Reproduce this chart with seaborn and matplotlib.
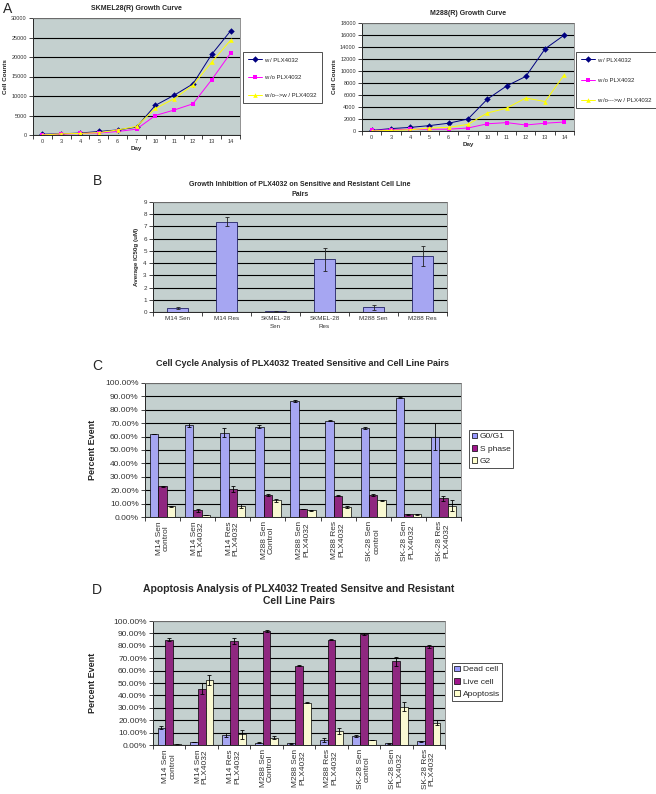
import numpy as np
import pandas as pd
import matplotlib
matplotlib.use("Agg")
import matplotlib.pyplot as plt
import seaborn as sns
from matplotlib.lines import Line2D
from matplotlib.patches import Patch
from matplotlib.ticker import FuncFormatter, FixedLocator, MultipleLocator

# Daten Panel A: Wachstumskurven
days = ["0", "3", "4", "5", "6", "7", "10", "11", "12", "13", "14"]
skmel_w = [200, 300, 500, 900, 1300, 2000, 7600, 10200, 13100, 20700, 26700]
skmel_wo = [100, 200, 400, 500, 900, 1500, 5000, 6400, 8000, 14200, 21000]
skmel_wow = [0, 300, 400, 600, 1300, 2200, 6800, 9300, 12800, 18700, 24300]
m288_w = [100, 400, 600, 900, 1300, 2000, 5300, 7500, 9100, 13700, 16000]
m288_wo = [100, 200, 300, 300, 300, 500, 1200, 1400, 1000, 1300, 1500]
m288_wow = [0, 100, 200, 500, 600, 1100, 3000, 3800, 5500, 4900, 9400]

# Daten Panel B: IC50
b_names = ["M14 Sen", "M14 Res", "SKMEL-28\nSen", "SKMEL-28\nRes", "M288 Sen", "M288 Res"]
b_ic50 = [0.3, 7.4, 0.07, 4.3, 0.4, 4.6]
b_err = [0.07, 0.4, 0.03, 0.95, 0.2, 0.8]

# Daten Panel C/D
samples = ["M14 Sen\ncontrol", "M14 Sen\nPLX4032", "M14 Res\nPLX4032", "M288 Sen\nControl",
           "M288 Sen\nPLX4032", "M288 Res\nPLX4032", "SK-28 Sen\ncontrol", "SK-28 Sen\nPLX4032",
           "SK-28 Res\nPLX4032"]
c_phases = ["G0/G1", "S phase", "G2"]
c_g1 = [62, 69, 63, 67.5, 86.5, 72, 66.5, 89, 60]
c_s = [23, 5, 21, 16.5, 6, 16, 16.5, 2, 14]
c_g2 = [8, 1.5, 8, 12.5, 5, 7.5, 12.5, 2, 8.5]
c_g1_err = [0.3, 1.5, 3.5, 1.2, 0.8, 0.3, 0.5, 0.5, 10]
c_s_err = [0.5, 1, 2, 0.5, 0.3, 0.4, 0.5, 0.3, 2]
c_g2_err = [0.3, 0.2, 1.5, 1, 0.2, 1, 0.3, 0.2, 4]

d_groups = ["Dead cell", "Live cell", "Apoptosis"]
d_dead = [14, 2.5, 8, 2, 1.5, 4, 7, 1.5, 3]
d_live = [85, 45.5, 84, 92, 64, 85, 89.5, 67.5, 79.5]
d_apo = [0.5, 52.5, 8.5, 6, 34, 11, 4, 31, 18]
d_dead_err = [1, 0.3, 1.5, 0.3, 0.3, 1.5, 0.8, 0.3, 0.3]
d_live_err = [1, 4.5, 2.5, 0.5, 0.5, 0.5, 0.8, 3.5, 1]
d_apo_err = [0.2, 4, 4, 1, 0.5, 2.5, 0.3, 3.5, 2]

sns.set_style("ticks")
plt.rcParams['font.family'] = ['Liberation Sans', 'DejaVu Sans']

W, H = 656, 794
fig = plt.figure(figsize=(W / 100, H / 100), dpi=100)

bg = "#C4D0CF"
blau_bar = "#9999FF"
lila = "#A0168C"
gelb = "#FFFFCC"


def px_axes(l, t, r, b):
    return fig.add_axes([l / W, 1 - b / H, (r - l) / W, (b - t) / H])


def style_axes(ax, n, fs):
    ax.set_facecolor(bg)
    ax.set_xlim(-0.5, n - 0.5)
    ax.yaxis.grid(True, color="black", linewidth=0.8)
    ax.set_axisbelow(True)
    for s in ["top", "right"]:
        ax.spines[s].set_color("#808080")
        ax.spines[s].set_linewidth(0.6)
    for s in ["left", "bottom"]:
        ax.spines[s].set_linewidth(0.7)
    ax.xaxis.set_minor_locator(FixedLocator(np.arange(-0.5, n, 1.0)))
    ax.tick_params(axis="x", which="major", length=0, labelsize=fs, pad=3)
    ax.tick_params(axis="x", which="minor", length=3, width=0.6)
    ax.tick_params(axis="y", length=3, width=0.6, labelsize=fs, pad=1.5)
    ax.tick_params(axis="both", labelcolor="#333333")


# Panel A: Wachstumskurven
def growth(ax, w, wo, wow, labels, ymax, ystep, title, leg_box, spacing):
    df = pd.DataFrame({
        "pos": list(range(len(days))) * 3,
        "count": w + wo + wow,
        "Gruppe": [labels[0]] * len(days) + [labels[1]] * len(days) + [labels[2]] * len(days),
    })
    farben = {labels[0]: "#000080", labels[1]: "#FF00FF", labels[2]: "#FFFF00"}
    marker = {labels[0]: "D", labels[1]: "s", labels[2]: "^"}
    sns.lineplot(data=df, x="pos", y="count", hue="Gruppe", style="Gruppe", palette=farben,
                 markers=marker, dashes=False, markersize=3.3, markeredgewidth=0,
                 linewidth=0.7, ax=ax, legend=False)
    style_axes(ax, len(days), 4)
    ax.set_ylim(0, ymax)
    ax.yaxis.set_major_locator(MultipleLocator(ystep))
    ax.set_xticks(range(len(days)))
    ax.set_xticklabels(days)
    ax.set_xlabel("Day", fontsize=4.5, fontweight="bold", labelpad=1.5)
    ax.set_ylabel("Cell Counts", fontsize=4.5, fontweight="bold", labelpad=2)
    ax.set_title(title, fontsize=5, fontweight="bold", pad=6)
    handles = [Line2D([0], [0], color=farben[l], marker=marker[l], markersize=3.3,
                      markeredgewidth=0, linewidth=0.7) for l in labels]
    leg = fig.legend(handles, labels, loc="upper left",
                     bbox_to_anchor=(leg_box[0] / W, 1 - leg_box[1] / H),
                     fontsize=4.3, frameon=True, fancybox=False, edgecolor="black",
                     labelspacing=spacing, handlelength=2.3, borderpad=0.9, handletextpad=0.3,
                     borderaxespad=0)
    leg.get_frame().set_linewidth(0.6)


ax1 = px_axes(33, 18, 240, 135)
growth(ax1, skmel_w, skmel_wo, skmel_wow,
       ["w / PLX4032", "w /o PLX4032", "w /o-->w / PLX4032"],
       30000, 5000, "SKMEL28(R) Growth Curve", (243, 52), 2.1)
ax2 = px_axes(362, 23, 574, 131)
growth(ax2, m288_w, m288_wo, m288_wow,
       ["w / PLX4032", "w /o PLX4032", "w /o--->w / PLX4032"],
       18000, 2000, "M288(R) Growth Curve", (576, 52), 2.5)

# Panel B: IC50 Balken
ax3 = px_axes(153, 202, 447, 312)
sns.barplot(x=list(range(len(b_names))), y=b_ic50, color=blau_bar, width=0.42,
            edgecolor="#222266", linewidth=0.6, errorbar=None, ax=ax3, native_scale=True)
style_axes(ax3, len(b_names), 4.5)
ax3.errorbar(range(len(b_names)), b_ic50, yerr=b_err, fmt="none", ecolor="#222222",
             elinewidth=0.6, capsize=1.5, capthick=0.6)
ax3.set_ylim(0, 9)
ax3.yaxis.set_major_locator(MultipleLocator(1))
ax3.set_xticks(range(len(b_names)))
ax3.set_xticklabels(b_names, linespacing=1.6)
ax3.set_ylabel("Average IC50g (uM)", fontsize=4.5, fontweight="bold", labelpad=3)
ax3.set_xlabel("")
ax3.set_title("Growth Inhibition of PLX4032 on Sensitive and Resistant Cell Line\nPairs",
              fontsize=5, fontweight="bold", pad=4, linespacing=1.6)


# Panel C und D: gruppierte Balken
def grouped(ax, werte, fehler, gruppen, farben, leg_box, ylabel_pad):
    df = pd.DataFrame({
        "Probe": samples * 3,
        "Wert": werte[0] + werte[1] + werte[2],
        "Gruppe": [gruppen[0]] * 9 + [gruppen[1]] * 9 + [gruppen[2]] * 9,
    })
    sns.barplot(data=df, x="Probe", y="Wert", hue="Gruppe", palette=farben, width=0.72,
                edgecolor="black", linewidth=0.5, errorbar=None, ax=ax, legend=False)
    style_axes(ax, len(samples), 6)
    for cont, err in zip(ax.containers, fehler):
        xs = [p.get_x() + p.get_width() / 2 for p in cont]
        hs = [p.get_height() for p in cont]
        ax.errorbar(xs, hs, yerr=err, fmt="none", ecolor="black", elinewidth=0.6,
                    capsize=1.5, capthick=0.6)
    ax.set_ylim(0, 100)
    ax.yaxis.set_major_locator(MultipleLocator(10))
    ax.yaxis.set_major_formatter(FuncFormatter(lambda v, p: f"{v:.2f}%"))
    ax.set_xticks(range(len(samples)))
    ax.set_xticklabels(samples, rotation=90, ha="center", va="top", multialignment="center",
                       fontsize=6, linespacing=1.0)
    ax.set_xlabel("")
    ax.set_ylabel("Percent Event", fontsize=6.5, fontweight="bold", labelpad=ylabel_pad)
    handles = [Patch(facecolor=farben[g], edgecolor="black", linewidth=0.5) for g in gruppen]
    leg = fig.legend(handles, gruppen, loc="upper left",
                     bbox_to_anchor=(leg_box[0] / W, 1 - leg_box[1] / H),
                     fontsize=6, frameon=True, fancybox=False, edgecolor="black",
                     labelspacing=0.55, handlelength=0.7, handleheight=0.7, borderpad=0.3,
                     handletextpad=0.3, borderaxespad=0)
    leg.get_frame().set_linewidth(0.6)


ax4 = px_axes(145, 383, 461, 517)
grouped(ax4, [c_g1, c_s, c_g2], [c_g1_err, c_s_err, c_g2_err], c_phases,
        {"G0/G1": blau_bar, "S phase": lila, "G2": gelb}, (469, 430), 6)
ax4.set_title("Cell Cycle Analysis of PLX4032 Treated Sensitive and Cell Line Pairs",
              fontsize=6.5, fontweight="bold", pad=12)

ax5 = px_axes(153, 621, 445, 745)
grouped(ax5, [d_dead, d_live, d_apo], [d_dead_err, d_live_err, d_apo_err], d_groups,
        {"Dead cell": blau_bar, "Live cell": lila, "Apoptosis": gelb}, (452, 663), 12)
ax5.set_title("Apoptosis Analysis of PLX4032 Treated Sensitve and Resistant\nCell Line Pairs",
              fontsize=7.5, fontweight="bold", pad=12, linespacing=1.3)

# Panel Buchstaben
for buchstabe, x, y in [("A", 3, 13), ("B", 93, 185), ("C", 92, 370), ("D", 92, 594)]:
    fig.text(x / W, 1 - y / H, buchstabe, fontsize=10, va="baseline", ha="left")

fig.savefig("out.png", dpi=100)
